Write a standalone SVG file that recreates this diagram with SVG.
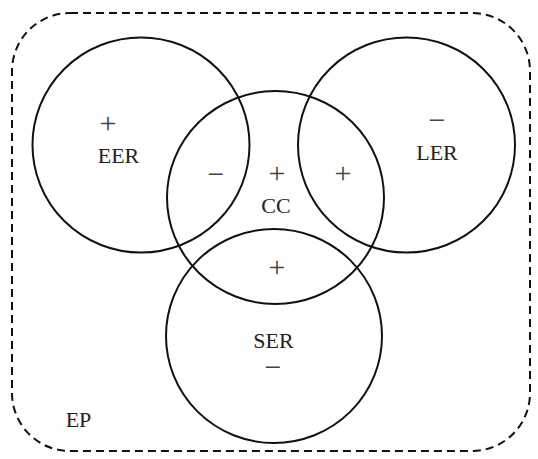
<svg xmlns="http://www.w3.org/2000/svg" width="538" height="459" viewBox="0 0 538 459">
<style>
.c{fill:none;stroke:#111;stroke-width:2}
.t{font-family:"Liberation Serif","Times New Roman",serif;font-size:22px;fill:#222;text-anchor:middle}
.s{font-family:"Liberation Serif","Times New Roman",serif;font-size:30px;fill:#444;text-anchor:middle}
</style>
<rect width="538" height="459" fill="#fff"/>
<g id="EP">
<rect x="12" y="13" width="518" height="438" rx="58" ry="58" fill="none" stroke="#111" stroke-width="2" stroke-dasharray="8,5"/>
<text class="t" x="78.5" y="427">EP</text>
</g>
<g id="EER">
<ellipse class="c" cx="141" cy="145" rx="108.5" ry="107.5"/>
<text class="s" x="108" y="133">+</text>
<text class="t" x="118.5" y="163">EER</text>
</g>
<g id="LER">
<ellipse class="c" cx="406.5" cy="145" rx="108.5" ry="107.5"/>
<text class="s" x="437" y="130">−</text>
<text class="t" x="437" y="160">LER</text>
</g>
<g id="CC">
<ellipse class="c" cx="275.5" cy="197.5" rx="108.5" ry="106.5"/>
<text class="s" x="216" y="184">−</text>
<text class="s" x="277" y="183">+</text>
<text class="s" x="343" y="183">+</text>
<text class="s" x="277" y="277">+</text>
<text class="t" x="276" y="213">CC</text>
</g>
<g id="SER">
<ellipse class="c" cx="274" cy="336" rx="108" ry="107"/>
<text class="t" x="273.5" y="348">SER</text>
<text class="s" x="273" y="377">−</text>
</g>
<g id="connectors"></g>
</svg>
